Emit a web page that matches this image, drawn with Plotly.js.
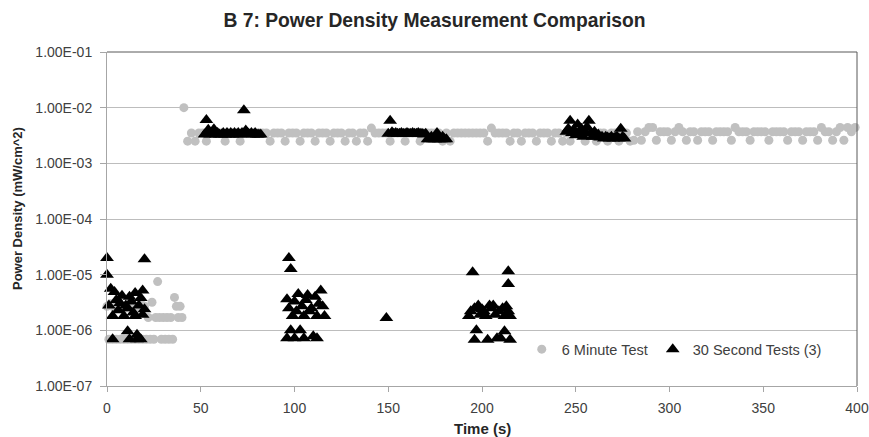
<!DOCTYPE html>
<html>
<head>
<meta charset="utf-8">
<script src="https://cdn.plot.ly/plotly-3.0.1.min.js"></script>
<style>html,body{margin:0;padding:0;background:#fff;}#chart{width:869px;height:437px;}</style>
</head>
<body>
<div id="chart"></div>
<script>
// ---- Data ----
const chartTitle = "B 7: Power Density Measurement Comparison";
const seriesNames = ["6 Minute Test", "30 Second Tests (3)"];
const yTickVals = [1e-7, 1e-6, 1e-5, 1e-4, 1e-3, 1e-2, 1e-1];
const yTickText = ["1.00E-07", "1.00E-06", "1.00E-05", "1.00E-04", "1.00E-03", "1.00E-02", "1.00E-01"];
const xTickVals = [0, 50, 100, 150, 200, 250, 300, 350, 400];

// 6 Minute Test: time (s)
const sixMinTime = [
  0,1,2,3,4,5,6,7,8,9,10,11,12,13,14,15,16,17,18,19,20,21,22,23,24,25,26,27,28,29,30,31,32,33,34,35,36,37,38,39,40,
  41,43,45,47,49,51,53,55,57,59,
  61,63,65,67,69,71,73,75,77,79,
  81,83,85,87,89,91,93,95,97,99,
  101,103,105,107,109,111,113,115,117,119,
  121,123,125,127,129,131,133,135,137,139,
  141,143,145,147,149,151,153,155,157,159,
  161,163,165,167,169,171,173,175,177,179,
  181,183,185,187,189,191,193,195,197,199,
  201,203,205,207,209,211,213,215,217,219,
  221,223,225,227,229,231,233,235,237,239,
  241,243,245,247,249,251,253,255,257,259,
  261,263,265,267,269,271,273,275,277,279,
  281,283,285,287,289,291,293,295,297,299,
  301,303,305,307,309,311,313,315,317,319,
  321,323,325,327,329,331,333,335,337,339,
  341,343,345,347,349,351,353,355,357,359,
  361,363,365,367,369,371,373,375,377,379,
  381,383,385,387,389,391,393,395,397,399
];
// 6 Minute Test: power density (mW/cm^2)
const sixMinValue = [
  2.7e-6,6.9e-7,3.0e-6,6.9e-7,2.5e-6,6.9e-7,3.3e-6,6.9e-7,2.7e-6,6.9e-7,
  2.5e-6,6.9e-7,3.0e-6,6.9e-7,2.7e-6,6.9e-7,2.5e-6,6.9e-7,3.0e-6,6.9e-7,
  2.7e-6,6.9e-7,1.7e-6,6.9e-7,3.2e-6,6.9e-7,1.7e-6,7.5e-6,1.7e-6,6.9e-7,
  1.7e-6,6.9e-7,1.7e-6,6.9e-7,1.7e-6,6.9e-7,3.9e-6,2.7e-6,1.7e-6,2.7e-6,1.7e-6,
  0.0100,0.0025,0.0035,0.0025,0.0035,0.0035,0.0025,0.0035,0.0035,0.0035,
  0.0035,0.0025,0.0035,0.0035,0.0035,0.0025,0.0035,0.0035,0.0035,0.0035,
  0.0035,0.0035,0.0035,0.0025,0.0035,0.0035,0.0035,0.0025,0.0035,0.0035,
  0.0035,0.0025,0.0035,0.0035,0.0035,0.0025,0.0035,0.0035,0.0035,0.0025,
  0.0035,0.0035,0.0035,0.0025,0.0035,0.0035,0.0025,0.0035,0.0035,0.0025,
  0.0043,0.0035,0.0035,0.0035,0.0035,0.0025,0.0035,0.0035,0.0035,0.0025,
  0.0035,0.0035,0.0035,0.0025,0.0035,0.0035,0.0035,0.0035,0.0035,0.0025,
  0.0035,0.0025,0.0035,0.0035,0.0035,0.0035,0.0035,0.0035,0.0035,0.0035,
  0.0035,0.0025,0.0043,0.0035,0.0035,0.0035,0.0035,0.0025,0.0035,0.0035,
  0.0025,0.0035,0.0035,0.0035,0.0025,0.0035,0.0035,0.0035,0.0025,0.0035,
  0.0035,0.0025,0.0035,0.0025,0.0035,0.0035,0.0035,0.0025,0.0035,0.0035,
  0.0025,0.0035,0.0035,0.0025,0.0035,0.0035,0.0025,0.0035,0.0035,0.0025,
  0.0026,0.0037,0.0026,0.0037,0.0044,0.0044,0.0026,0.0037,0.0037,0.0037,
  0.0026,0.0037,0.0044,0.0037,0.0026,0.0037,0.0037,0.0026,0.0037,0.0037,
  0.0037,0.0026,0.0037,0.0037,0.0037,0.0037,0.0026,0.0044,0.0037,0.0037,
  0.0037,0.0026,0.0037,0.0037,0.0037,0.0037,0.0026,0.0037,0.0037,0.0037,
  0.0037,0.0026,0.0037,0.0037,0.0037,0.0026,0.0037,0.0037,0.0037,0.0026,
  0.0044,0.0037,0.0037,0.0026,0.0037,0.0044,0.0026,0.0044,0.0037,0.0044
];

// 30 Second Tests (3): time (s)
const thirtySecTime = [
  // test 1 background
  0,0,1,2,3,3,4,5,6,7,8,9,10,11,11,12,12,13,14,15,15,16,16,17,18,18,19,19,20,20,
  // test 1 exposure
  52,53,54,55,56,57,58,59,60,61,62,63,64,65,66,67,68,69,70,71,72,73,74,75,76,77,78,79,80,81,82,
  // test 2 background
  96,96,97,97,98,98,99,100,100,101,102,103,104,105,105,106,107,108,109,110,111,112,112,113,114,115,116,149,
  // test 2 exposure
  150,151,152,153,154,155,156,157,158,159,160,161,162,163,164,165,166,167,168,169,170,171,172,173,174,175,176,177,178,179,180,181,
  // test 3 background
  193,194,195,196,196,197,198,199,200,201,202,203,204,205,206,207,208,209,210,211,212,212,213,214,214,214,215,215,
  // test 3 exposure
  245,246,247,248,249,250,251,252,253,254,255,256,257,258,259,260,261,262,263,264,265,266,267,268,269,270,271,272,273,274,275,276
];
// 30 Second Tests (3): power density (mW/cm^2)
const thirtySecValue = [
  2.0e-5,1.0e-5,2.8e-6,5.6e-6,6.9e-7,1.8e-6,4.9e-6,3.5e-6,2.3e-6,3.1e-6,4.2e-6,1.8e-6,2.8e-6,9.6e-7,2.5e-6,4.0e-6,6.9e-7,3.3e-6,2.1e-6,4.7e-6,1.8e-6,8.3e-7,6.9e-7,2.8e-6,6.9e-7,3.8e-6,5.2e-6,1.9e-6,1.9e-5,2.4e-6,
  0.0033,0.0060,0.0040,0.0033,0.0035,0.0041,0.0033,0.0035,0.0033,0.0033,0.0035,0.0033,0.0035,0.0033,0.0035,0.0033,0.0035,0.0033,0.0035,0.0033,0.0035,0.0090,0.0039,0.0035,0.0033,0.0035,0.0033,0.0035,0.0033,0.0033,0.0033,
  3.6e-6,7.2e-7,2.0e-5,2.5e-6,1.26e-5,1.0e-6,1.8e-6,3.3e-6,7.2e-7,2.2e-6,4.5e-6,1.0e-6,2.7e-6,1.8e-6,7.2e-7,3.5e-6,4.3e-6,2.2e-6,2.5e-6,7.8e-7,4.0e-6,1.8e-6,7.2e-7,3.0e-6,5.2e-6,2.7e-6,1.8e-6,1.66e-6,
  0.0034,0.0058,0.0036,0.0034,0.0035,0.0034,0.0034,0.0035,0.0034,0.0034,0.0035,0.0034,0.0034,0.0035,0.0034,0.0034,0.0035,0.0034,0.0034,0.0033,0.0034,0.0027,0.0027,0.0030,0.0027,0.0027,0.0035,0.0027,0.0027,0.0030,0.0027,0.0027,
  1.8e-6,2.2e-6,1.1e-5,2.5e-6,6.8e-7,1.0e-6,2.8e-6,1.9e-6,2.4e-6,2.2e-6,1.8e-6,6.8e-7,2.8e-6,2.5e-6,2.8e-6,1.9e-6,7.2e-7,2.2e-6,7.2e-7,2.5e-6,9.6e-7,1.8e-6,2.7e-6,1.15e-5,6.8e-6,2.2e-6,6.8e-7,1.8e-6,
  0.0037,0.0042,0.0058,0.0035,0.0040,0.0032,0.0050,0.0036,0.0042,0.0030,0.0037,0.0045,0.0058,0.0035,0.0030,0.0037,0.0030,0.0033,0.0029,0.0030,0.0028,0.0030,0.0029,0.0028,0.0030,0.0028,0.0029,0.0030,0.0028,0.0042,0.0030,0.0028
];

// ---- Chart ----
const baseFont = "Liberation Sans, Arial, sans-serif";
const traces = [
  {
    type: "scatter", mode: "markers", name: seriesNames[0],
    x: sixMinTime, y: sixMinValue, cliponaxis: false,
    marker: {symbol: "circle", size: 9, color: "#c0c0c0", line: {width: 0}}
  },
  {
    type: "scatter", mode: "markers", name: seriesNames[1],
    x: thirtySecTime, y: thirtySecValue, cliponaxis: false,
    marker: {symbol: "triangle-up", size: 12, color: "#000000", line: {width: 0}}
  }
];

const layout = {
  width: 869, height: 437,
  margin: {l: 107, r: 12, t: 52, b: 51, pad: 0},
  paper_bgcolor: "#ffffff", plot_bgcolor: "#ffffff",
  font: {family: baseFont, size: 14, color: "#404040"},
  title: {
    text: "<b>" + chartTitle + "</b>",
    x: 0.5, xref: "container", xanchor: "center",
    y: 1 - 20 / 437, yref: "container", yanchor: "middle",
    font: {family: baseFont, size: 19.3, color: "#262626"}
  },
  xaxis: {
    range: [0, 400], tickmode: "array", tickvals: xTickVals,
    showgrid: false, zeroline: false,
    showline: true, linecolor: "#a6a6a6", linewidth: 1,
    ticks: "outside", ticklen: 5, tickcolor: "#a6a6a6",
    ticklabelstandoff: 4,
    tickfont: {family: baseFont, size: 14, color: "#404040"}
  },
  yaxis: {
    type: "log", range: [-7, -1], tickmode: "array",
    tickvals: yTickVals, ticktext: yTickText,
    showgrid: true, gridcolor: "#bdbdbd", gridwidth: 1,
    zeroline: false, showline: true, linecolor: "#a6a6a6", linewidth: 1,
    ticks: "outside", ticklen: 6, tickcolor: "#a6a6a6",
    ticklabelstandoff: 5,
    tickfont: {family: baseFont, size: 14, color: "#404040"}
  },
  showlegend: true,
  legend: {
    orientation: "h", x: 0.553, xanchor: "left", y: 0.11, yanchor: "middle",
    bgcolor: "rgba(0,0,0,0)", borderwidth: 0,
    font: {family: baseFont, size: 14.5, color: "#404040"}
  },
  shapes: [
    {type: "line", xref: "paper", yref: "paper", x0: 0, x1: 1, y0: 1, y1: 1, line: {color: "#595959", width: 1}},
    {type: "line", xref: "paper", yref: "paper", x0: 1, x1: 1, y0: 0, y1: 1, line: {color: "#595959", width: 1}}
  ],
  annotations: [
    {text: "<b>Power Density (mW/cm^2)</b>", xref: "paper", yref: "paper",
     x: (17 - 107) / 750, y: (386 - 209) / 334, xanchor: "center", yanchor: "middle",
     textangle: -90, showarrow: false, font: {family: baseFont, size: 13, color: "#262626"}},
    {text: "<b>Time (s)</b>", xref: "paper", yref: "paper",
     x: 0.5, y: (386 - 428) / 334, xanchor: "center", yanchor: "middle",
     showarrow: false, font: {family: baseFont, size: 15, color: "#262626"}}
  ]
};

Plotly.newPlot("chart", traces, layout, {displayModeBar: false, staticPlot: true});
</script>
</body>
</html>
